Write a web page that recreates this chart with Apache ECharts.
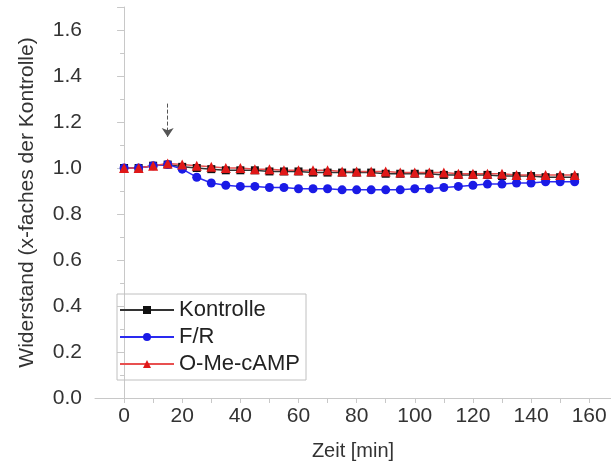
<!DOCTYPE html>
<html>
<head>
<meta charset="utf-8">
<script src="https://cdn.jsdelivr.net/npm/echarts@6/dist/echarts.min.js"></script>
<style>
  html, body { margin: 0; padding: 0; background: #fff; }
  #chart { width: 611px; height: 470px; }
</style>
</head>
<body>
<div id="chart"></div>
<script>
const zeit = [0, 5, 10, 15, 20, 25, 30, 35, 40, 45, 50, 55, 60, 65, 70, 75,
  80, 85, 90, 95, 100, 105, 110, 115, 120, 125, 130, 135, 140, 145, 150, 155]
const kontrolle = [1.00, 1.00, 1.01, 1.015, 1.005, 1.00, 0.995, 0.99, 0.99, 0.99, 0.985, 0.985, 0.985, 0.98, 0.98, 0.98,
  0.98, 0.98, 0.975, 0.975, 0.975, 0.975, 0.97, 0.97, 0.97, 0.97, 0.965, 0.965, 0.965, 0.96, 0.96, 0.96]
const fr = [1.00, 1.00, 1.01, 1.015, 0.995, 0.96, 0.935, 0.925, 0.92, 0.92, 0.915, 0.915, 0.91, 0.91, 0.91, 0.905,
  0.905, 0.905, 0.905, 0.905, 0.91, 0.91, 0.915, 0.92, 0.925, 0.93, 0.93, 0.935, 0.935, 0.94, 0.94, 0.94]
const omecamp = [1.00, 1.00, 1.01, 1.02, 1.015, 1.01, 1.005, 1.00, 1.00, 0.995, 0.995, 0.99, 0.99, 0.99, 0.99, 0.985,
  0.985, 0.985, 0.985, 0.98, 0.98, 0.98, 0.98, 0.975, 0.975, 0.975, 0.975, 0.97, 0.97, 0.97, 0.97, 0.97]
const xLabels = [0, 20, 40, 60, 80, 100, 120, 140, 160]
const xTicks = [0, 10, 20, 30, 40, 50, 60, 70, 80, 90, 100, 110, 120, 130, 140, 150, 160]
// arrow marking the treatment
const pfeil = [[15, 1.28], [15, 1.135]]

const pairs = vals => zeit.map((t, i) => [t, vals[i]])

const chart = echarts.init(document.getElementById('chart'))
const font = 'Liberation Sans, Arial, sans-serif'
const axisGray = '#c8c8c8'

chart.setOption({
  animation: false,
  textStyle: { fontFamily: font },
  grid: { left: 95, right: 0, top: 7, bottom: 72 },
  legend: {
    left: 117, top: 294,
    orient: 'vertical',
    itemWidth: 54, itemHeight: 10, itemGap: 5,
    padding: [5, 6, 5, 2],
    borderColor: '#c0c0c0', borderWidth: 1,
    textStyle: { fontSize: 22, color: '#222', fontFamily: font },
    data: ['Kontrolle', 'F/R', 'O-Me-cAMP']
  },
  xAxis: {
    type: 'value',
    min: -10, max: 167.5,
    name: 'Zeit [min]',
    nameLocation: 'middle',
    nameGap: 43,
    nameTextStyle: { fontSize: 20, color: '#333' },
    axisLine: { lineStyle: { color: axisGray } },
    axisTick: { length: 5, customValues: xTicks, lineStyle: { color: axisGray } },
    splitLine: { show: false },
    axisLabel: { fontSize: 21, color: '#333', margin: 8, customValues: xLabels }
  },
  yAxis: {
    type: 'value',
    min: 0, max: 1.7,
    interval: 0.2,
    name: 'Widerstand (x-faches der Kontrolle)',
    nameLocation: 'middle',
    nameGap: 57,
    nameTextStyle: { fontSize: 21, color: '#333' },
    axisLine: { show: true, lineStyle: { color: axisGray } },
    axisTick: { show: true, length: 7, lineStyle: { color: axisGray } },
    minorTick: { show: true, splitNumber: 2, length: 4, lineStyle: { color: axisGray } },
    splitLine: { show: false },
    axisLabel: {
      fontSize: 21, color: '#333', margin: 13,
      formatter: v => v > 1.61 ? '' : v.toFixed(1)
    }
  },
  series: [
    {
      name: 'Kontrolle',
      type: 'line',
      data: pairs(kontrolle),
      symbol: 'rect', symbolSize: 8,
      itemStyle: { color: '#111' },
      lineStyle: { color: '#333', width: 1.5 },
      markLine: {
        silent: true,
        symbol: ['none', 'arrow'],
        symbolSize: [9, 9],
        label: { show: false },
        lineStyle: { color: '#555', type: 'dashed', width: 1 },
        data: [[{ coord: pfeil[0] }, { coord: pfeil[1] }]]
      }
    },
    {
      name: 'F/R',
      type: 'line',
      data: pairs(fr),
      symbol: 'circle', symbolSize: 9,
      itemStyle: { color: '#1a1ae6' },
      lineStyle: { color: '#2a2af0', width: 1.5 }
    },
    {
      name: 'O-Me-cAMP',
      type: 'line',
      data: pairs(omecamp),
      symbol: 'triangle', symbolSize: 10,
      itemStyle: { color: '#e01818' },
      lineStyle: { color: '#e85050', width: 1.5 }
    }
  ]
})
</script>
</body>
</html>
